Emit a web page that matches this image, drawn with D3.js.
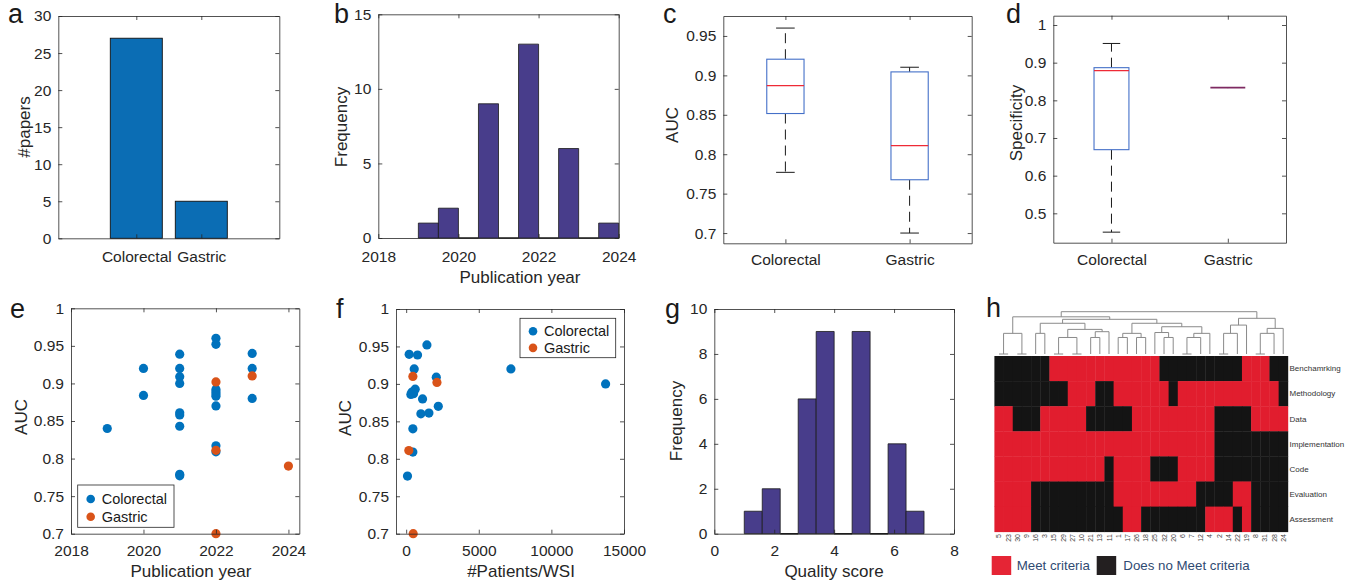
<!DOCTYPE html>
<html>
<head>
<meta charset="utf-8">
<script src="https://cdn.jsdelivr.net/npm/d3@7"></script>
<style>
  body { margin: 0; background: #fff; }
  svg { display: block; font-family: "Liberation Sans", Arial, Helvetica, sans-serif; }
  .axis path, .axis line { stroke: #262626; stroke-width: 0.8; }
  .axis text { fill: #262626; font-size: 15.5px; font-family: "Liberation Sans", Arial, sans-serif; }
  .lbl { fill: #262626; font-size: 17px; }
  .letter { fill: #1a1a1a; font-size: 27px; }
  .leg text { fill: #1a1a1a; font-size: 14.5px; }
</style>
</head>
<body>
<script>
// ---- data ----
const cancerTypes = ['Colorectal', 'Gastric'];
const paperCounts = [27, 5];

const yearEdges = [2019, 2019.5, 2020, 2020.5, 2021, 2021.5, 2022, 2022.5, 2023, 2023.5, 2024];
const yearCounts = [1, 2, 0, 9, 0, 13, 0, 6, 0, 1];

// boxplot stats (AUC)
const aucLow = [0.777, 0.700];
const aucQ1 = [0.8516, 0.7676];
const aucMed = [0.887, 0.811];
const aucQ3 = [0.9205, 0.9044];
const aucHigh = [0.960, 0.9103];

// boxplot stats (Specificity)
const specLow = [0.45, 0.8336];
const specQ1 = [0.669, 0.8336];
const specMed = [0.8787, 0.8336];
const specQ3 = [0.8867, 0.8336];
const specHigh = [0.951, 0.8336];

// AUC by publication year
const colYear = [2019, 2020, 2020, 2021, 2021, 2021, 2021, 2021, 2021, 2021, 2021, 2021,
  2022, 2022, 2022, 2022, 2022, 2022, 2022, 2022, 2022, 2023, 2023, 2023];
const colAuc = [0.84, 0.92, 0.884, 0.939, 0.92, 0.909, 0.90, 0.861, 0.858, 0.843, 0.779, 0.777,
  0.960, 0.952, 0.892, 0.889, 0.886, 0.883, 0.870, 0.817, 0.809, 0.94, 0.92, 0.88];
const gasYear = [2022, 2022, 2022, 2023, 2024];
const gasAuc = [0.902, 0.811, 0.70, 0.91, 0.79];

// AUC by #patients/WSI
const colN = [207, 783, 1429, 553, 2074, 323, 507, 622, 392, 1129, 1014, 1567, 2212, 461, 461, 92, 7212, 13733];
const colNAuc = [0.9395, 0.9386, 0.952, 0.920, 0.909, 0.886, 0.887, 0.893, 0.889, 0.880, 0.860, 0.861, 0.870, 0.840, 0.809, 0.777, 0.920, 0.900];
const gasN = [461, 2120, 184, 484];
const gasNAuc = [0.910, 0.902, 0.811, 0.70];

const scoreEdges = [1, 1.6, 2.2, 2.8, 3.4, 4.0, 4.6, 5.2, 5.8, 6.4, 7.0];
const scoreCounts = [1, 2, 0, 6, 9, 0, 9, 0, 4, 1];

// heatmap (1 = meets criteria)
const criteria = ['Benchamrking', 'Methodology', 'Data', 'Implementation', 'Code', 'Evaluation', 'Assessment'];
const studyIds = [5, 23, 30, 9, 16, 3, 15, 29, 27, 10, 21, 13, 11, 1, 17, 26, 18, 25, 32, 20, 6, 7, 12, 4, 2, 14, 22, 19, 8, 31, 28, 24];
const benchmarking   = [0,0,0,0,0,0,1,1,1,1,1,1,1,1,1,1,1,1,0,0,0,0,0,0,0,0,0,1,1,1,0,0];
const methodology    = [0,0,0,0,0,0,0,0,1,1,1,0,0,1,1,1,1,1,1,0,1,1,1,1,1,1,1,1,1,1,1,0];
const dataRow        = [1,1,0,0,0,1,1,1,1,1,0,0,0,0,0,1,1,1,1,1,1,1,1,1,0,0,0,0,1,1,1,1];
const implementation = [1,1,1,1,1,1,1,1,1,1,1,1,1,1,1,1,1,1,1,1,1,1,1,1,0,0,0,0,0,0,0,0];
const code           = [1,1,1,1,1,1,1,1,1,1,1,1,0,1,1,1,1,0,0,0,1,1,1,1,0,0,0,0,0,0,0,0];
const evaluation     = [1,1,1,1,0,0,0,0,0,0,0,0,0,1,1,1,1,1,1,1,1,1,0,0,0,0,1,1,0,0,0,0];
const assessment     = [1,1,1,1,0,0,0,0,0,0,0,0,0,0,1,1,0,0,0,0,0,0,0,1,1,1,0,1,0,0,0,0];
const matrix = [benchmarking, methodology, dataRow, implementation, code, evaluation, assessment];

// dendrogram: [height, left, right], leaves are column positions
const dendro = [2.56,
  [2.25,
    [1.25, [0, 0, 1], [0, 2, 3]],
    [2.10,
      [1.86, [1.25, 4, 5], [1.49, [1.0, [0, 6, 7], [0, 8, 9]], [1.35, [1.0, 10, 11], 12]]],
      [1.86, [1.25, [1.0, 13, 14], [1.0, 15, 16]],
        [1.65, [1.3, 17, [1.0, 18, 19]], [1.25, [1.0, [0, 20, 21], 22], 23]]]]],
  [2.16,
    [1.75, [1.25, [0, 24, 25], 26], 27],
    [1.55, [1.25, [0, 28, 29], 30], 31]]];

// tick values
const ticksA = [0, 5, 10, 15, 20, 25, 30];
const ticksYear = [2018, 2020, 2022, 2024];
const ticksFreqB = [0, 5, 10, 15];
const ticksAuc = [0.7, 0.75, 0.8, 0.85, 0.9, 0.95];
const ticksAuc1 = [0.7, 0.75, 0.8, 0.85, 0.9, 0.95, 1];
const ticksSpec = [0.5, 0.6, 0.7, 0.8, 0.9, 1];
const ticksN = [0, 5000, 10000, 15000];
const ticksScore = [0, 2, 4, 6, 8];
const ticksFreqG = [0, 2, 4, 6, 8, 10];

const BLUE = '#0072BD', ORANGE = '#D95319', PURPLE = '#483D8B';
const TK = 4;

const svg = d3.select('body').append('svg').attr('width', 1346).attr('height', 581);

function scales(b, xd, yd) {
  return {
    x: d3.scaleLinear().domain(xd).range([b[0], b[1]]),
    y: d3.scaleLinear().domain(yd).range([b[3], b[2]])
  };
}

function axes(x, y, o) {
  const g = svg.append('g');
  const [x0, x1] = x.range(), [y0, y1] = y.range();
  g.append('g').attr('class', 'axis').attr('transform', `translate(0,${y0})`)
    .call(d3.axisBottom(x).tickValues(o.xt).tickFormat(o.xf || (d => d)).tickSize(-TK).tickSizeOuter(0).tickPadding(o.xp || 11));
  g.append('g').attr('class', 'axis').attr('transform', `translate(0,${y1})`)
    .call(d3.axisTop(x).tickValues(o.xt).tickFormat(() => '').tickSize(-TK).tickSizeOuter(0));
  g.append('g').attr('class', 'axis').attr('transform', `translate(${x0},0)`)
    .call(d3.axisLeft(y).tickValues(o.yt).tickFormat(d => d).tickSize(-TK).tickSizeOuter(0).tickPadding(7));
  g.append('g').attr('class', 'axis').attr('transform', `translate(${x1},0)`)
    .call(d3.axisRight(y).tickValues(o.yt).tickFormat(() => '').tickSize(-TK).tickSizeOuter(0));
  if (o.xl) svg.append('text').attr('class', 'lbl').attr('x', o.xl[1]).attr('y', o.xl[2])
    .attr('text-anchor', 'middle').text(o.xl[0]);
  if (o.yl) svg.append('text').attr('class', 'lbl').attr('text-anchor', 'middle')
    .attr('transform', `translate(${o.yl[1]},${o.yl[2]}) rotate(-90)`).attr('dy', '0.35em').text(o.yl[0]);
}

function letter(t, x, y) {
  svg.append('text').attr('class', 'letter').attr('x', x).attr('y', y).text(t);
}

function hist(x, y, edges, counts) {
  svg.append('g').selectAll('path').data(counts).join('path')
    .attr('d', (c, i) => `M${x(edges[i])},${y(0)}V${y(c)}H${x(edges[i + 1])}V${y(0)}Z`)
    .attr('fill', PURPLE).attr('stroke', '#1a1a1a').attr('stroke-width', c => c ? 0.8 : 1.6);
}

function boxplot(x, y, lo, q1, med, q3, hi) {
  const g = svg.append('g');
  const bw = 0.15, cw = 0.075;
  cancerTypes.forEach((c, i) => {
    const cx = i + 1;
    const flat = !(q3[i] > q1[i]);
    g.append('line').attr('x1', x(cx)).attr('x2', x(cx)).attr('y1', y(q3[i])).attr('y2', y(hi[i]))
      .attr('stroke', '#1a1a1a').attr('stroke-dasharray', '10,6');
    g.append('line').attr('x1', x(cx)).attr('x2', x(cx)).attr('y1', y(q1[i])).attr('y2', y(lo[i]))
      .attr('stroke', '#1a1a1a').attr('stroke-dasharray', '10,6');
    if (hi[i] > q3[i]) g.append('line').attr('x1', x(cx - cw)).attr('x2', x(cx + cw)).attr('y1', y(hi[i])).attr('y2', y(hi[i])).attr('stroke', '#1a1a1a');
    if (lo[i] < q1[i]) g.append('line').attr('x1', x(cx - cw)).attr('x2', x(cx + cw)).attr('y1', y(lo[i])).attr('y2', y(lo[i])).attr('stroke', '#1a1a1a');
    g.append('rect').attr('x', x(cx - bw)).attr('width', x(cx + bw) - x(cx - bw))
      .attr('y', y(q3[i])).attr('height', y(q1[i]) - y(q3[i]))
      .attr('fill', flat ? 'none' : '#fff').attr('stroke', '#4470c8').attr('stroke-width', 1.1);
    g.append('line').attr('x1', x(cx - bw)).attr('x2', x(cx + bw)).attr('y1', y(med[i])).attr('y2', y(med[i]))
      .attr('stroke', flat ? '#7e2a62' : '#ee2a36').attr('stroke-width', flat ? 1.8 : 1.3);
  });
}

function dots(x, y, xs, ys, color) {
  svg.append('g').selectAll('circle').data(xs).join('circle')
    .attr('cx', d => x(d)).attr('cy', (d, i) => y(ys[i])).attr('r', 4.6).attr('fill', color);
}

function legend(b) {
  const g = svg.append('g').attr('class', 'leg');
  g.append('rect').attr('x', b[0]).attr('y', b[1]).attr('width', b[2]).attr('height', b[3])
    .attr('fill', '#fff').attr('stroke', '#262626').attr('stroke-width', 0.8);
  [[cancerTypes[0], BLUE], [cancerTypes[1], ORANGE]].forEach(([t, c], i) => {
    const cy = b[1] + b[3] * (i === 0 ? 0.33 : 0.75);
    g.append('circle').attr('cx', b[0] + 13).attr('cy', cy).attr('r', 4.3).attr('fill', c);
    g.append('text').attr('x', b[0] + 24).attr('y', cy).attr('dy', '0.35em').text(t);
  });
}

// ---- a: #papers ----
{
  const { x, y } = scales([58.3, 279.3, 16, 238.3], [-0.2, 3.2], [0, 30]);
  svg.append('g').selectAll('rect').data(paperCounts).join('rect')
    .attr('x', (d, i) => x(i + 1 - 0.4)).attr('width', x(0.8) - x(0))
    .attr('y', d => y(d)).attr('height', d => y(0) - y(d))
    .attr('fill', '#0b6db4').attr('stroke', '#111').attr('stroke-width', 0.9);
  axes(x, y, { xt: [1, 2], xf: d => cancerTypes[d - 1], yt: ticksA, xp: 13, yl: ['#papers', 24, 127] });
  letter('a', 8, 23);
}

// ---- b: publication year histogram ----
{
  const { x, y } = scales([378.3, 618.7, 14.3, 238], [2018, 2024], [0, 15]);
  hist(x, y, yearEdges, yearCounts);
  axes(x, y, { xt: ticksYear, yt: ticksFreqB, xp: 13, xl: ['Publication year', 520, 283], yl: ['Frequency', 341, 127] });
  letter('b', 334, 23);
}

// ---- c: AUC boxplot ----
{
  const { x, y } = scales([723.3, 971.7, 16, 243.3], [0.5, 2.5], [0.687, 0.9753]);
  boxplot(x, y, aucLow, aucQ1, aucMed, aucQ3, aucHigh);
  axes(x, y, { xt: [1, 2], xf: d => cancerTypes[d - 1], yt: ticksAuc, yl: ['AUC', 672, 125] });
  letter('c', 663, 23);
}

// ---- d: specificity boxplot ----
{
  const { x, y } = scales([1053.3, 1286, 15.7, 242.7], [0.5, 2.5], [0.422, 1.0247]);
  boxplot(x, y, specLow, specQ1, specMed, specQ3, specHigh);
  axes(x, y, { xt: [1, 2], xf: d => cancerTypes[d - 1], yt: ticksSpec, yl: ['Specificity', 1016, 123] });
  letter('d', 1006, 23);
}

// ---- e: AUC vs year ----
{
  const { x, y } = scales([71, 299.3, 308.3, 533.7], [2018, 2024.3], [0.7, 1]);
  dots(x, y, colYear, colAuc, BLUE);
  dots(x, y, gasYear, gasAuc, ORANGE);
  axes(x, y, { xt: ticksYear, yt: ticksAuc1, xl: ['Publication year', 191, 577], yl: ['AUC', 21, 417] });
  legend([77.7, 485, 96.3, 42.3]);
  letter('e', 10, 318);
}

// ---- f: AUC vs #patients ----
{
  const { x, y } = scales([396, 624, 309, 533.7], [-700, 15000], [0.7, 1]);
  dots(x, y, colN, colNAuc, BLUE);
  dots(x, y, gasN, gasNAuc, ORANGE);
  axes(x, y, { xt: ticksN, yt: ticksAuc1, xl: ['#Patients/WSI', 521, 577], yl: ['AUC', 345, 418] });
  legend([520, 318.3, 95.7, 39.4]);
  letter('f', 336, 318);
}

// ---- g: quality score histogram ----
{
  const { x, y } = scales([714.3, 954, 309, 533.7], [0, 8], [0, 10]);
  hist(x, y, scoreEdges, scoreCounts);
  axes(x, y, { xt: ticksScore, yt: ticksFreqG, xl: ['Quality score', 834, 577], yl: ['Frequency', 676, 421] });
  letter('g', 665, 318);
}

// ---- h: clustered heatmap ----
{
  const hx = d3.scaleBand().domain(d3.range(studyIds.length)).range([994.4, 1287.8]);
  const hy = d3.scaleBand().domain(criteria).range([356, 531.7]);
  const RED = '#e11d2e', BLACK = '#141414';
  const g = svg.append('g');
  criteria.forEach((r, ri) => {
    g.selectAll(null).data(matrix[ri]).join('rect')
      .attr('x', (v, i) => hx(i)).attr('y', hy(r))
      .attr('width', hx.bandwidth() + 0.4).attr('height', hy.bandwidth() + 0.4)
      .attr('fill', v => v ? RED : BLACK);
  });
  g.selectAll('text.row').data(criteria).join('text').attr('class', 'row')
    .attr('x', 1289.5).attr('y', d => hy(d) + hy.bandwidth() / 2).attr('dy', '0.35em')
    .attr('font-size', 8).attr('fill', '#333').text(d => d);
  g.selectAll('text.col').data(studyIds).join('text').attr('class', 'col')
    .attr('transform', (d, i) => `translate(${hx(i) + hx.bandwidth() / 2 + 2.5},534) rotate(-90)`)
    .attr('text-anchor', 'end').attr('font-size', 7).attr('fill', '#444').text(d => d);

  const dY = d3.scaleLinear().domain([0, 2.56]).range([354, 311.7]);
  const dg = svg.append('g').attr('fill', 'none').attr('stroke', '#8a8a8a').attr('stroke-width', 1);
  function node(n) {
    if (typeof n === 'number') return { x: hx(n) + hx.bandwidth() / 2, h: 0 };
    const [h, a, b] = n;
    const A = node(a), B = node(b);
    dg.append('path').attr('d', `M${A.x},${dY(A.h)}V${dY(h)}H${B.x}V${dY(B.h)}`);
    return { x: (A.x + B.x) / 2, h };
  }
  node(dendro);

  const lg = svg.append('g');
  lg.append('rect').attr('x', 991.7).attr('y', 556).attr('width', 19.5).attr('height', 19).attr('fill', '#e52535');
  lg.append('text').attr('x', 1016.7).attr('y', 570).attr('font-size', 13.3).attr('fill', '#2f4a72').text('Meet criteria');
  lg.append('rect').attr('x', 1096.7).attr('y', 556).attr('width', 19.5).attr('height', 19).attr('fill', '#231f20');
  lg.append('text').attr('x', 1123.3).attr('y', 570).attr('font-size', 13.3).attr('fill', '#2f4a72').text('Does no Meet criteria');
  letter('h', 986, 317);
}
</script>
</body>
</html>
